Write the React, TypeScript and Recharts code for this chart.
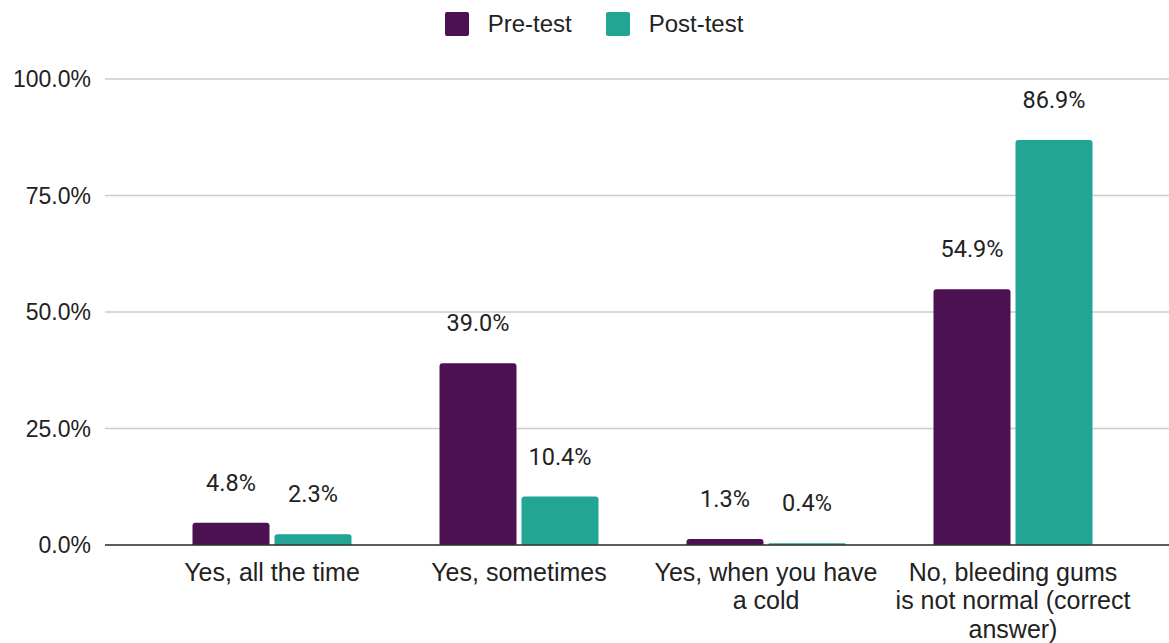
import React from "react";
import { BarChart, Bar, XAxis, YAxis, CartesianGrid, Legend, LabelList } from "recharts";

const categories = [
  "Yes, all the time",
  "Yes, sometimes",
  "Yes, when you have a cold",
  "No, bleeding gums is not normal (correct answer)",
];
const tickLines: string[][] = [
  ["Yes, all the time"],
  ["Yes, sometimes"],
  ["Yes, when you have", "a cold"],
  ["No, bleeding gums", "is not normal (correct", "answer)"],
];
const preTest = [4.8, 39.0, 1.3, 54.9];
const postTest = [2.3, 10.4, 0.4, 86.9];
const yTicks = [0, 25, 50, 75, 100];
const seriesOrder = ["pre", "post"];

const PRE = "#4b1151";
const POST = "#22a595";
const TEXT = "#222222";
const AXIS_FONT = "'Liberation Sans', Arial, sans-serif";

const data = categories.map((c, i) => ({
  name: c,
  pre: preTest[i],
  post: postTest[i],
}));

const XTick = (props: any) => {
  const { x, y, index } = props;
  const lines = tickLines[index] || [String(props.payload?.value ?? "")];
  return (
    <text
      x={x}
      y={y + 36}
      textAnchor="middle"
      fill={TEXT}
      fontSize={25}
      fontFamily={AXIS_FONT}
    >
      {lines.map((l, i) => (
        <tspan key={i} x={x} dy={i === 0 ? 0 : 28.3}>
          {l}
        </tspan>
      ))}
    </text>
  );
};

const LegendContent = (props: any) => {
  const payload = [...(props.payload || [])].sort(
    (a: any, b: any) => seriesOrder.indexOf(a.dataKey) - seriesOrder.indexOf(b.dataKey)
  );
  return (
    <div
      style={{
        display: "flex",
        justifyContent: "center",
        alignItems: "center",
        height: 48,
        paddingLeft: 19,
        fontFamily: AXIS_FONT,
        fontSize: 24,
        color: TEXT,
      }}
    >
      {payload.map((p: any, i: number) => (
        <div
          key={i}
          style={{ display: "flex", alignItems: "center", marginRight: i < payload.length - 1 ? 34 : 0 }}
        >
          <div
            style={{
              width: 24,
              height: 24,
              borderRadius: 2,
              background: p.color,
              marginRight: 19,
            }}
          />
          <span>{p.value}</span>
        </div>
      ))}
    </div>
  );
};

export default function App() {
  return (
    <div style={{ position: "absolute", left: 0, top: 0, background: "#fff" }}>
      <BarChart
        width={1169}
        height={643}
        data={data}
        margin={{ top: 31, right: 0, bottom: 0, left: 0 }}
        barSize={77}
        barGap={5}
      >
        <CartesianGrid vertical={false} stroke="#cccccc" strokeWidth={1.5} />
        <XAxis
          dataKey="name"
          interval={0}
          padding={{ left: 43.5, right: 32.5 }}
          height={98}
          tickSize={0}
          tickMargin={0}
          axisLine={{ stroke: "#333333", strokeWidth: 1.5 }}
          tickLine={false}
          tick={<XTick />}
        />
        <YAxis
          width={105}
          domain={[0, 100]}
          ticks={yTicks}
          interval={0}
          axisLine={false}
          tickLine={false}
          tickSize={0}
          tickMargin={14}
          tickFormatter={(v: number) => `${v.toFixed(1)}%`}
          tick={{ fill: TEXT, fontSize: 23, fontFamily: AXIS_FONT }}
        />
        <Legend
          verticalAlign="top"
          align="center"
          itemSorter={(item: any) => seriesOrder.indexOf(item.dataKey)}
          wrapperStyle={{ top: 0, left: 0, width: 1169, height: 48 }}
          content={<LegendContent />}
        />
        <Bar dataKey="pre" name="Pre-test" fill={PRE} radius={[3, 3, 0, 0]} isAnimationActive={false}>
          <LabelList
            dataKey="pre"
            position="top"
            offset={32}
            formatter={(v: number) => `${v.toFixed(1)}%`}
            style={{ fill: TEXT, fontSize: 23.5, fontFamily: "Roboto, sans-serif" }}
          />
        </Bar>
        <Bar dataKey="post" name="Post-test" fill={POST} radius={[3, 3, 0, 0]} isAnimationActive={false}>
          <LabelList
            dataKey="post"
            position="top"
            offset={32}
            formatter={(v: number) => `${v.toFixed(1)}%`}
            style={{ fill: TEXT, fontSize: 23.5, fontFamily: "Roboto, sans-serif" }}
          />
        </Bar>
      </BarChart>
    </div>
  );
}
